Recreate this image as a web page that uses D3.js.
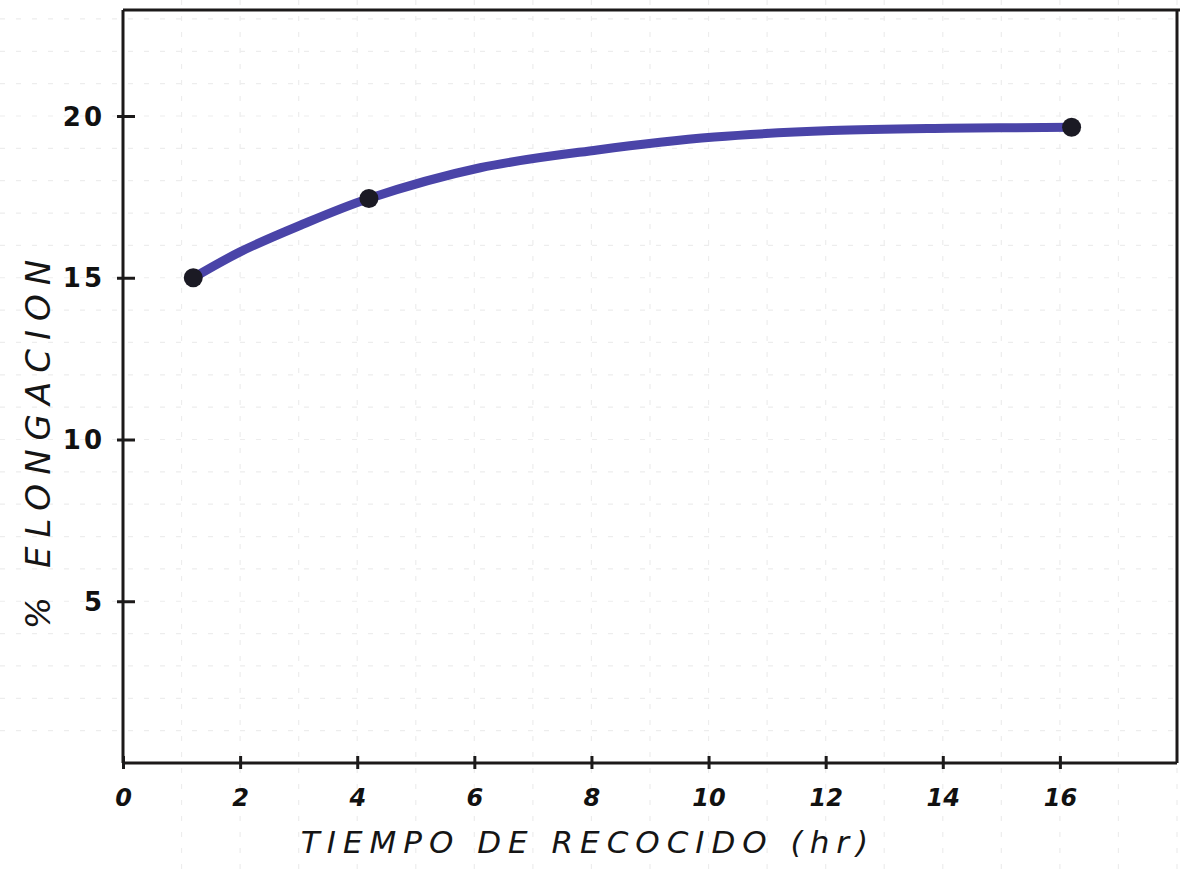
<!DOCTYPE html>
<html>
<head>
<meta charset="utf-8">
<script src="https://cdn.jsdelivr.net/npm/d3@7/dist/d3.min.js"></script>
<style>
  html, body { margin: 0; padding: 0; background: #ffffff; }
  svg { display: block; }
</style>
</head>
<body>
<svg id="chart" width="1180" height="870"></svg>
<script>
// ---- Data ----
const curveX = [1.2, 2.0, 3.0, 4.2, 6.1, 8.1, 10.1, 12.1, 14.1, 16.2];
const curveY = [15.0, 15.8, 16.6, 17.45, 18.4, 18.95, 19.35, 19.55, 19.62, 19.65];
const pointX = [1.2, 4.2, 16.2];
const pointY = [15.0, 17.45, 19.65];
const xTicks = [0, 2, 4, 6, 8, 10, 12, 14, 16];
const yTicks = [5, 10, 15, 20];
const xTitle = "TIEMPO DE RECOCIDO (hr)";
const yTitle = "% ELONGACION";

// ---- Layout ----
const W = 1180, H = 870;
const svg = d3.select("#chart");
const x = d3.scaleLinear().domain([0, 18]).range([123, 1177]);
const y = d3.scaleLinear().domain([0, 20]).range([763, 116]);
const yTop = y.invert(10);

// faint graph-paper grid
const grid = svg.append("g").attr("stroke", "#ededed").attr("stroke-width", 1.2)
  .attr("stroke-dasharray", "5 11");
grid.selectAll("line.v").data(d3.range(1, 19)).join("line")
  .attr("x1", d => x(d)).attr("x2", d => x(d))
  .attr("y1", 0).attr("y2", H);
grid.selectAll("line.h").data(d3.range(1, 24)).join("line")
  .attr("y1", d => y(d)).attr("y2", d => y(d))
  .attr("x1", 0).attr("x2", W);

// frame / axes
const axisColor = "#1c1a1a";
const frame = svg.append("g").attr("stroke", axisColor).attr("fill", "none").attr("stroke-width", 3);
frame.append("line").attr("x1", x(0)).attr("x2", x(0)).attr("y1", y(yTop)).attr("y2", y(0));
frame.append("line").attr("x1", x(0)).attr("x2", W).attr("y1", y(yTop)).attr("y2", y(yTop));
frame.append("line").attr("x1", x(0)).attr("x2", x(18)).attr("y1", y(0)).attr("y2", y(0));
frame.append("line").attr("x1", x(18)).attr("x2", x(18)).attr("y1", y(yTop)).attr("y2", y(0));

// x axis ticks
const xAxis = d3.axisBottom(x).tickValues(xTicks).tickSize(0).tickPadding(26).tickFormat(d3.format("d"));
const gx = svg.append("g").attr("transform", `translate(0,${y(0)})`).call(xAxis);
gx.select(".domain").remove();
gx.selectAll(".tick").append("line")
  .attr("y1", -7).attr("y2", 6).attr("stroke", axisColor).attr("stroke-width", 3);
gx.selectAll(".tick text")
  .attr("fill", "#111")
  .style("font-family", "'DejaVu Sans', sans-serif")
  .style("font-style", "italic")
  .style("font-weight", "bold")
  .style("font-size", "24px");

// y axis ticks
const yAxis = d3.axisLeft(y).tickValues(yTicks).tickSize(0).tickPadding(22).tickFormat(d3.format("d"));
const gy = svg.append("g").attr("transform", `translate(${x(0) + 4},0)`).call(yAxis);
gy.select(".domain").remove();
gy.selectAll(".tick").append("line")
  .attr("x1", -10).attr("x2", 8).attr("stroke", axisColor).attr("stroke-width", 3);
gy.selectAll(".tick text")
  .attr("fill", "#111")
  .attr("dy", "0.35em")
  .style("font-family", "'DejaVu Sans', sans-serif")
  .style("font-weight", "bold")
  .style("font-size", "26px")
  .style("letter-spacing", "3px");

// curve
const line = d3.line()
  .x((d, i) => x(curveX[i]))
  .y((d, i) => y(curveY[i]))
  .curve(d3.curveBasis);
const lineFull = d3.line()
  .x((d, i) => x(curveX[i]))
  .y((d, i) => y(curveY[i]))
  .curve(d3.curveCatmullRom.alpha(0.5));
svg.append("path")
  .datum(curveY)
  .attr("d", lineFull)
  .attr("fill", "none")
  .attr("stroke", "#4a44a8")
  .attr("stroke-width", 9)
  .attr("stroke-linecap", "round");

// data points
svg.append("g").selectAll("circle").data(pointX).join("circle")
  .attr("cx", d => x(d))
  .attr("cy", (d, i) => y(pointY[i]))
  .attr("r", 9.5)
  .attr("fill", "#1b1a24");

// axis titles
svg.append("text")
  .attr("x", 588).attr("y", 853)
  .attr("text-anchor", "middle")
  .attr("fill", "#151515")
  .style("font-family", "'DejaVu Sans', sans-serif")
  .style("font-style", "italic")
  .style("font-size", "31px")
  .style("letter-spacing", "7px")
  .text(xTitle);

svg.append("text")
  .attr("transform", "translate(50,440) rotate(-90)")
  .attr("text-anchor", "middle")
  .attr("fill", "#151515")
  .style("font-family", "'DejaVu Sans', sans-serif")
  .style("font-style", "italic")
  .style("font-size", "34px")
  .style("letter-spacing", "9px")
  .text(yTitle);
</script>
</body>
</html>
